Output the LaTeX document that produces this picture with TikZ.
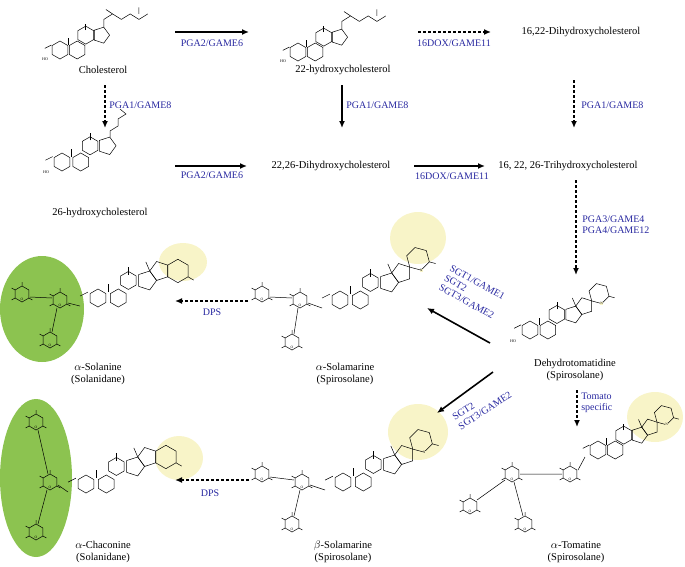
\documentclass[tikz,border=0pt]{standalone}
\usepackage{fontspec}
\setmainfont{Liberation Serif}
\usetikzlibrary{arrows.meta,positioning,calc}
\definecolor{enz}{RGB}{40,40,160}
\definecolor{spiro}{RGB}{248,244,200}
\definecolor{sugarbg}{RGB}{140,195,80}

\tikzset{
    ring/.pic={\draw (30:9)--(90:9)--(150:9)--(210:9)--(270:9)--(330:9)--cycle;},
    sugar/.pic={\draw (30:8)--(90:8)--(150:8)--(210:8)--(270:8)--(330:8)--cycle
        (150:8)--++(150:4) (270:8)--++(270:4) (30:8)--++(30:4) (210:8)--++(210:4);
        \node[font=\fontsize{3.5}{3.5}\selectfont] at (90:5.5) {O};},
    steroid/.pic={
        \path (0,0) pic{ring} (15.6,0) pic{ring} (23.4,-13.5) pic{ring};
        \draw ($(37.4,-13.5)+(144:7.66)$) -- ($(37.4,-13.5)+(216:7.66)$)
              -- ($(37.4,-13.5)+(288:7.66)$) -- ($(37.4,-13.5)+(0:7.66)$)
              -- ($(37.4,-13.5)+(72:7.66)$) -- cycle;
        \draw (210:9) -- ++(-6,3);
        \draw (7.8,-4.5) -- ++(0,-6) (23.4,-18) -- ++(0,-6);},
    sidechain/.pic={
        \draw (39.8,-20.8) -- ++(0,-7) -- ++(8,-5) -- ++(8,5) -- ++(8,-5) -- ++(8,5) -- ++(8,-5)
              (47.8,-32.8) -- ++(-6,-4) (71.8,-32.8) -- ++(0,-6);},
    spirane/.pic={
        \coordinate (E) at ($(37.4,-13.5)+(-36:12.4)$);
        \coordinate (S) at ($(E)+(324:7.66)$);
        \coordinate (F) at ($(S)+(-45:9)$);
        \draw ($(E)+(108:7.66)$) -- ($(E)+(180:7.66)$) -- ($(E)+(252:7.66)$) -- (S)
              -- ($(E)+(36:7.66)$) -- cycle;
        \draw ($(F)+(135:9)$) -- ($(F)+(195:9)$) -- ($(F)+(255:9)$) -- ($(F)+(315:9)$)
              -- ($(F)+(15:9)$) -- ($(F)+(75:9)$) -- cycle ($(F)+(15:9)$) -- ++(15:5);
        \node[font=\fontsize{3.5}{3.5}\selectfont, inner sep=0.3pt, fill=spiro] at ($(F)+(75:9)$) {N};
        \draw (39.8,-20.8) -- ++(-3,-7);},
    solanid/.pic={
        \coordinate (E) at ($(37.4,-13.5)+(-36:12.4)$);
        \coordinate (F) at ($(E)+(14,0)$);
        \draw ($(E)+(108:7.66)$) -- ($(E)+(180:7.66)$) -- ($(E)+(252:7.66)$) -- ($(E)+(324:7.66)$)
              -- ($(E)+(36:7.66)$) -- cycle;
        \draw ($(F)+(150:9)$) -- ($(F)+(210:9)$) -- ($(F)+(270:9)$) -- ($(F)+(330:9)$)
              -- ($(F)+(30:9)$) -- ($(F)+(90:9)$) -- cycle ($(F)+(30:9)$) -- ++(30:5);
        \draw (39.8,-20.8) -- ++(-3,-7);},
    hydroxy/.style={font=\fontsize{4}{4}\selectfont, inner sep=0.5pt},
    molname/.style={font=\fontsize{10.5}{12.5}\selectfont, align=center, inner sep=1pt},
    enzyme/.style={font=\fontsize{10}{11}\selectfont, text=enz, align=left, inner sep=1pt},
    fullarrow/.style={-{Latex[length=7pt,width=6pt]}, line width=1.6pt},
    dasharrow/.style={-{Latex[length=7pt,width=6pt]}, line width=1.6pt, dash pattern=on 3pt off 2pt}
}

\begin{document}
\begin{tikzpicture}[x=1pt,y=-1pt,line width=0.5pt]
    \useasboundingbox (0,0) rectangle (685,566);

    % highlighted rings
    \fill[sugarbg] (42,309) ellipse (42 and 53);
    \fill[sugarbg] (36,478) ellipse (36 and 79);
    \fill[spiro] (183,262) ellipse (24 and 19);
    \fill[spiro] (418,238) ellipse (28 and 26);
    \fill[spiro] (179,458) ellipse (24 and 22);
    \fill[spiro] (418,432) ellipse (30 and 28);
    \fill[spiro] (655,417) ellipse (28 and 25);

    % sterols
    \path (60,50) pic[scale=1.1]{steroid} pic[scale=1.1]{sidechain};
    \node[hydroxy] (ho1) at (45,59) {HO};
    \path (298,52) pic[scale=1.1]{steroid} pic[scale=1.1]{sidechain};
    \node[hydroxy] (ho2) at (283,61) {HO};
    \path (62,162) pic[scale=1.2]{steroid};
    \node[hydroxy] (ho3) at (46,172) {HO};
    \draw (110,137) -- ++(0,-6) -- ++(8,-5) -- ++(0,-7) -- ++(8,-5) -- ++(-6,-5);
    \path (530,330) pic[scale=1.15]{steroid} pic[scale=1.15]{spirane};
    \node[hydroxy] (ho4) at (513,341) {HO};

    % glycoalkaloids
    \path (340,300) pic[scale=1.3]{steroid} pic[scale=1.3]{spirane};
    \path (98,298) pic[scale=1.3]{steroid} pic[scale=1.3]{solanid};
    \path (343,482) pic[scale=1.3]{steroid} pic[scale=1.3]{spirane};
    \path (86,484) pic[scale=1.3]{steroid} pic[scale=1.3]{solanid};
    \path (598,450) pic[scale=1.1]{steroid} pic[scale=1.1]{spirane};

    % sugar chains
    \path (22,294) pic{sugar} (60,300) pic{sugar} (50,340) pic{sugar};
    \draw (30,297) -- (52,298) (68,303) -- (80,306) (57,308) -- (52,332);
    \path (262,294) pic{sugar} (300,300) pic{sugar} (292,342) pic{sugar};
    \draw (270,297) -- (292,298) (308,303) -- (322,308) (298,308) -- (294,334);
    \path (262,474) pic{sugar} (302,482) pic{sugar} (292,524) pic{sugar};
    \draw (270,477) -- (294,480) (310,485) -- (325,490) (300,490) -- (294,516);
    \path (36,422) pic{sugar} (50,482) pic{sugar} (36,532) pic{sugar};
    \draw (38,430) -- (48,474) (58,485) -- (68,492) (47,490) -- (38,524);
    \path (570,474) pic{sugar} (512,474) pic{sugar} (470,506) pic{sugar} (525,524) pic{sugar};
    \draw (578,470) -- (585,457) (562,474) -- (520,474) (505,480) -- (477,500) (514,482) -- (523,516);

    % names
    \node[molname] (chol) at (103,70) {Cholesterol};
    \node[molname] (hc22) at (343,70) {22-hydroxycholesterol};
    \node[molname] (dh1622) at (581,32) {16,22-Dihydroxycholesterol};
    \node[molname] (hc26) at (100,213) {26-hydroxycholesterol};
    \node[molname] (dh2226) at (331,166) {22,26-Dihydroxycholesterol};
    \node[molname] (th) at (568,166) {16, 22, 26-Trihydroxycholesterol};
    \node[molname] (dht) at (575,370) {Dehydrotomatidine\\(Spirosolane)};
    \node[molname] (solanine) at (98,374) {$\alpha$-Solanine\\(Solanidane)};
    \node[molname] (solam) at (345,374) {$\alpha$-Solamarine\\(Spirosolane)};
    \node[molname] (chacon) at (103,552) {$\alpha$-Chaconine\\(Solanidane)};
    \node[molname] (bsolam) at (343,552) {$\beta$-Solamarine\\(Spirosolane)};
    \node[molname] (tomat) at (576,552) {$\alpha$-Tomatine\\(Spirosolane)};

    % arrow ends
    \coordinate (a1) at (175,32); \coordinate (b1) at (249,32);
    \coordinate (a2) at (418,32); \coordinate (b2) at (491,32);
    \coordinate (a3) at (105,85); \coordinate (b3) at (105,128);
    \coordinate (a4) at (342,85); \coordinate (b4) at (342,128);
    \coordinate (a5) at (574,80); \coordinate (b5) at (574,128);
    \coordinate (a6) at (175,166); \coordinate (b6) at (247,166);
    \coordinate (a7) at (414,166); \coordinate (b7) at (485,166);
    \coordinate (a8) at (576,180); \coordinate (b8) at (576,275);
    \coordinate (a9) at (490,343); \coordinate (b9) at (427,308);
    \coordinate (a10) at (493,372); \coordinate (b10) at (437,413);
    \coordinate (a11) at (577,390); \coordinate (b11) at (577,427);
    \coordinate (a12) at (248,301); \coordinate (b12) at (175,301);
    \coordinate (a13) at (249,480); \coordinate (b13) at (175,480);

    \draw[fullarrow] (a1) -- (b1);
    \draw[dasharrow] (a2) -- (b2);
    \draw[dasharrow] (a3) -- (b3);
    \draw[fullarrow] (a4) -- (b4);
    \draw[dasharrow] (a5) -- (b5);
    \draw[fullarrow] (a6) -- (b6);
    \draw[fullarrow] (a7) -- (b7);
    \draw[dasharrow] (a8) -- (b8);
    \draw[fullarrow] (a9) -- (b9);
    \draw[fullarrow] (a10) -- (b10);
    \draw[dasharrow] (a11) -- (b11);
    \draw[dasharrow] (a12) -- (b12);
    \draw[dasharrow] (a13) -- (b13);

    % enzymes
    \node[enzyme] (e1) at (212,43) {PGA2/GAME6};
    \node[enzyme] (e2) at (454,43) {16DOX/GAME11};
    \node[enzyme, anchor=west] (e3) at (108,105) {PGA1/GAME8};
    \node[enzyme, anchor=west] (e4) at (345,105) {PGA1/GAME8};
    \node[enzyme, anchor=west] (e5) at (580,105) {PGA1/GAME8};
    \node[enzyme] (e6) at (212,175) {PGA2/GAME6};
    \node[enzyme] (e7) at (452,176) {16DOX/GAME11};
    \node[enzyme, anchor=west] (e8) at (581,225) {PGA3/GAME4\\PGA4/GAME12};
    \node[enzyme, rotate=-29] (e9) at (472,292) {SGT1/GAME1\\SGT2\\SGT3/GAME2};
    \node[enzyme, rotate=33] (e10) at (482,406) {SGT2\\SGT3/GAME2};
    \node[enzyme, anchor=west] (e11) at (580,403) {Tomato\\specific};
    \node[enzyme] (e12) at (212,312) {DPS};
    \node[enzyme] (e13) at (210,493) {DPS};
\end{tikzpicture}
\end{document}
